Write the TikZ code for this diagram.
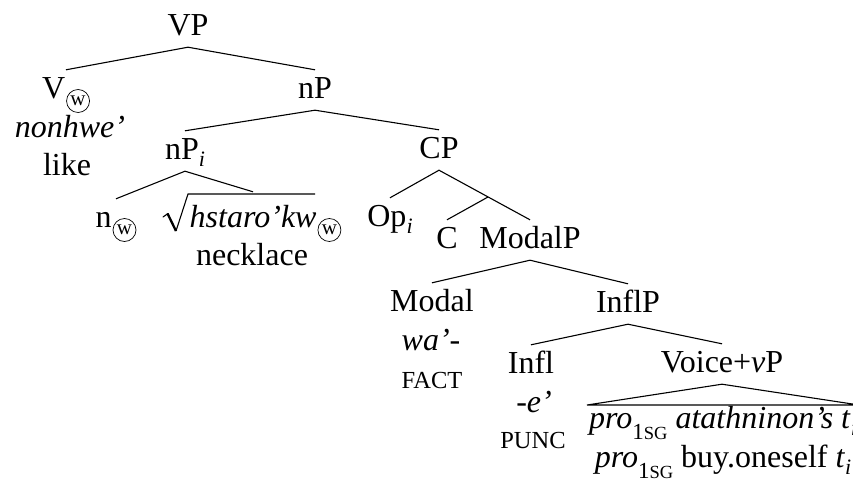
\documentclass[tikz,border=0pt]{standalone}
\usepackage{fontspec}
\setmainfont{Liberation Serif}
\newcommand{\cw}{\kern1pt\raisebox{-3pt}{\tikz[baseline=(w.center)]\node[circle,draw,line width=0.7pt,inner sep=0pt,minimum size=23pt,text height={},text depth={},anchor=center,font=\fontsize{21}{21}\selectfont](w){w};}}
\newcommand{\sbi}{\raisebox{-7pt}{\fontsize{22}{22}\selectfont\itshape i}}
\newcommand{\sg}{\raisebox{-11pt}{\fontsize{23}{23}\selectfont 1\fontsize{18.5}{18.5}\selectfont SG}}
\newcommand{\smc}[1]{{\fontsize{24.5}{24.5}\selectfont #1}}
\begin{document}
\begin{tikzpicture}[x=1pt,y=-1pt,
  every node/.style={font=\fontsize{32}{38}\selectfont},
  cat/.style={anchor=base,inner xsep=2pt,inner ysep=8pt,text height=20pt,text depth=4pt},
  word/.style={anchor=base,inner sep=0pt},
  edge/.style={line width=1.1pt}]
\useasboundingbox (0,0) rectangle (853,479);
\clip (0,0) rectangle (853,479);
% nodes
\node[cat] (VP) at (188,35) {VP};
\node[cat] (V) at (66,98) {V\cw};
\node[word] (Vw1) at (70,137) {\itshape nonhwe'};
\node[word] (Vw2) at (67,175) {like};
\node[cat] (nP) at (315,98) {nP};
\node[cat] (nPi) at (185,159) {nP\sbi};
\node[cat] (CP) at (439,158) {CP};
\node[cat] (n) at (116,227) {n\cw};
\node[cat,text height=27pt] (root) at (253,227) {\hspace{25pt}\textit{hstaro'kw}\cw};
\node[word] (rootg) at (252,265) {necklace};
\node[cat] (Op) at (390,226) {Op\sbi};
\coordinate (Cbar) at (488,197);
\node[cat] (C) at (447,248) {C};
\node[cat] (ModalP) at (530,248) {ModalP};
\node[cat] (Modal) at (432,311) {Modal};
\node[word] (Modal1) at (431,350) {\itshape wa'-};
\node[word] (Modal2) at (432,388) {\smc{FACT}};
\node[cat] (InflP) at (628,312) {InflP};
\node[cat] (Infl) at (531,373) {Infl};
\node[word] (Infl1) at (534,412) {\itshape -e'};
\node[word] (Infl2) at (533,448) {\smc{PUNC}};
\node[cat] (VvP) at (722,372) {Voice+\textit{v}P};
\coordinate (tl) at (587,405);
\coordinate (tr) at (859,405);
\node[word] (tri1) at (723,428) {\textit{pro}\sg{} \textit{atathninon's t}\sbi};
\node[word] (tri2) at (723,467) {\textit{pro}\sg{} buy.oneself \textit{t}\sbi};
% radical sign of the root
\draw[line width=1.1pt,line cap=round] ([shift={(-90,-10)}]root.base) -- ([shift={(-85,-13.5)}]root.base);
\draw[line width=2.3pt] ([shift={(-85.5,-13.5)}]root.base) -- ([shift={(-77,4)}]root.base);
\draw[line width=1.1pt,line join=miter] ([shift={(-77,4)}]root.base) -- ([shift={(-65,-33)}]root.base) -- ([shift={(62,-33)}]root.base);
% edges
\draw[edge] (V.north) -- (VP.south) -- (nP.north);
\draw[edge] (nPi.north) -- (nP.south) -- (CP.north);
\draw[edge] (n.north) -- (nPi.south) -- (root.north);
\draw[edge] (Op.north) -- (CP.south) -- (ModalP.north);
\draw[edge] (Cbar) -- (C.north);
\draw[edge] (Modal.north) -- (ModalP.south) -- (InflP.north);
\draw[edge] (Infl.north) -- (InflP.south) -- (VvP.north);
\draw[edge] (VvP.south) -- (tl) -- (tr) -- cycle;
\end{tikzpicture}
\end{document}
